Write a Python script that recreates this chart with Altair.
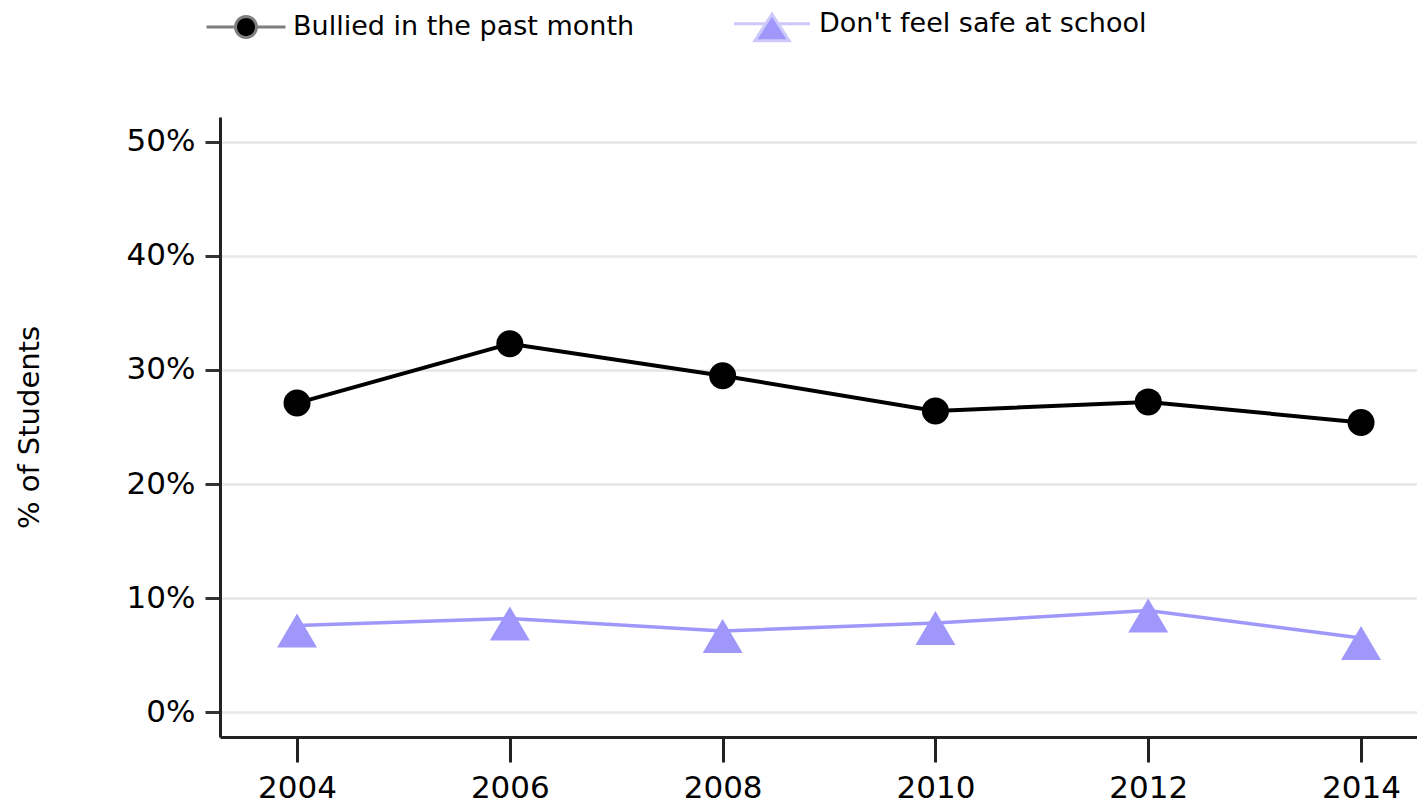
import math
import altair as alt
import pandas as pd

# ---- data ----
years = [2004, 2006, 2008, 2010, 2012, 2014]
bullied = [27.1, 32.3, 29.5, 26.4, 27.2, 25.4]
unsafe = [7.6, 8.2, 7.1, 7.8, 8.9, 6.5]
series_names = ["Bullied in the past month", "Don't feel safe at school"]
y_ticks = [0, 10, 20, 30, 40, 50]

# ---- styles ----
BLACK = "#000000"
LAV = "#9f98fa"
FONT = "DejaVu Sans"

rows = []
for yr, v in zip(years, bullied):
    rows.append({"year": yr, "pct": v / 100, "series": series_names[0]})
for yr, v in zip(years, unsafe):
    rows.append({"year": yr, "pct": v / 100, "series": series_names[1]})
df = pd.DataFrame(rows)

x_enc = alt.X(
    "year:Q",
    scale=alt.Scale(domain=[2003.276, 2014.526], nice=False, zero=False),
    axis=alt.Axis(
        values=years, format="d", title=None, grid=False,
        tickSize=25, tickWidth=3, tickColor="#222",
        labelFontSize=31, labelFont=FONT, labelColor="#000", labelPadding=11,
        domainColor="#222", domainWidth=3,
    ),
)
y_enc = alt.Y(
    "pct:Q",
    scale=alt.Scale(domain=[-0.0219, 0.5219], nice=False, zero=False),
    axis=alt.Axis(
        values=[t / 100 for t in y_ticks], format=".0%",
        title="% of Students", titleFontSize=29, titleFont=FONT,
        titleFontWeight="normal", titleColor="#000",
        titleX=-191, titleBaseline="middle",
        labelFontSize=31, labelFont=FONT, labelColor="#000", labelPadding=10,
        tickSize=15, tickWidth=3, tickColor="#333",
        domainColor="#222", domainWidth=3,
        grid=True, gridColor="#e6e6e6", gridWidth=2.5,
    ),
)

base = alt.Chart(df)
b_data = base.transform_filter(alt.datum.series == series_names[0])
u_data = base.transform_filter(alt.datum.series == series_names[1])

line_b = b_data.mark_line(strokeWidth=4, color=BLACK).encode(x=x_enc, y=y_enc)
line_u = u_data.mark_line(strokeWidth=3.5, color=LAV).encode(x=x_enc, y=y_enc)
pts_b = b_data.mark_point(filled=True, opacity=1, color=BLACK, size=729, shape="circle").encode(x=x_enc, y=y_enc)
tri_path = "M0,-0.6L1,1.1L-1,1.1Z"
pts_u = u_data.mark_point(filled=True, opacity=1, color=LAV, size=1600, shape=tri_path).encode(x=x_enc, y=y_enc)

# ---- legend symbols (line + marker) ----
r = 0.525
circ = "M" + "L".join(
    f"{r*math.cos(2*math.pi*k/28):.4f},{r*math.sin(2*math.pi*k/28):.4f}" for k in range(28)
) + "Z"
sym_b = f"M-1.975,0L-{r},0M{r},0L1.975,0" + circ
sym_u = "M-1.9,0L-0.3,0M0.3,0L1.9,0M0,-0.48L0.86,0.84L-0.86,0.84Z"

leg = alt.Legend(
    orient="none", legendX=4.5, legendY=-115, direction="horizontal",
    title=None, padding=0, labelFontSize=27, labelFont=FONT, labelColor="#000",
    labelLimit=0,
    symbolSize=1600, symbolStrokeWidth=3, labelOffset=25.5, columnPadding=93,
)
legend_layer = base.transform_filter("false").mark_point(filled=True, opacity=1, strokeWidth=3).encode(
    x=x_enc, y=y_enc,
    fill=alt.Fill("series:N", scale=alt.Scale(domain=series_names, range=[BLACK, LAV]), legend=leg),
    stroke=alt.Stroke("series:N", scale=alt.Scale(domain=series_names, range=["#7f7f7f", "#cdc9fc"]), legend=leg),
    shape=alt.Shape("series:N", scale=alt.Scale(domain=series_names, range=[sym_b, sym_u]), legend=leg),
)

chart = alt.layer(line_b, line_u, pts_b, pts_u, legend_layer).properties(
    width=1197, height=620,
    autosize=alt.AutoSizeParams(type="none"),
    padding={"left": 212, "top": 109, "right": 0, "bottom": 67},
    background="white",
).configure_view(stroke=None)

chart.save("out.html", embed_options={"renderer": "svg", "actions": False})
